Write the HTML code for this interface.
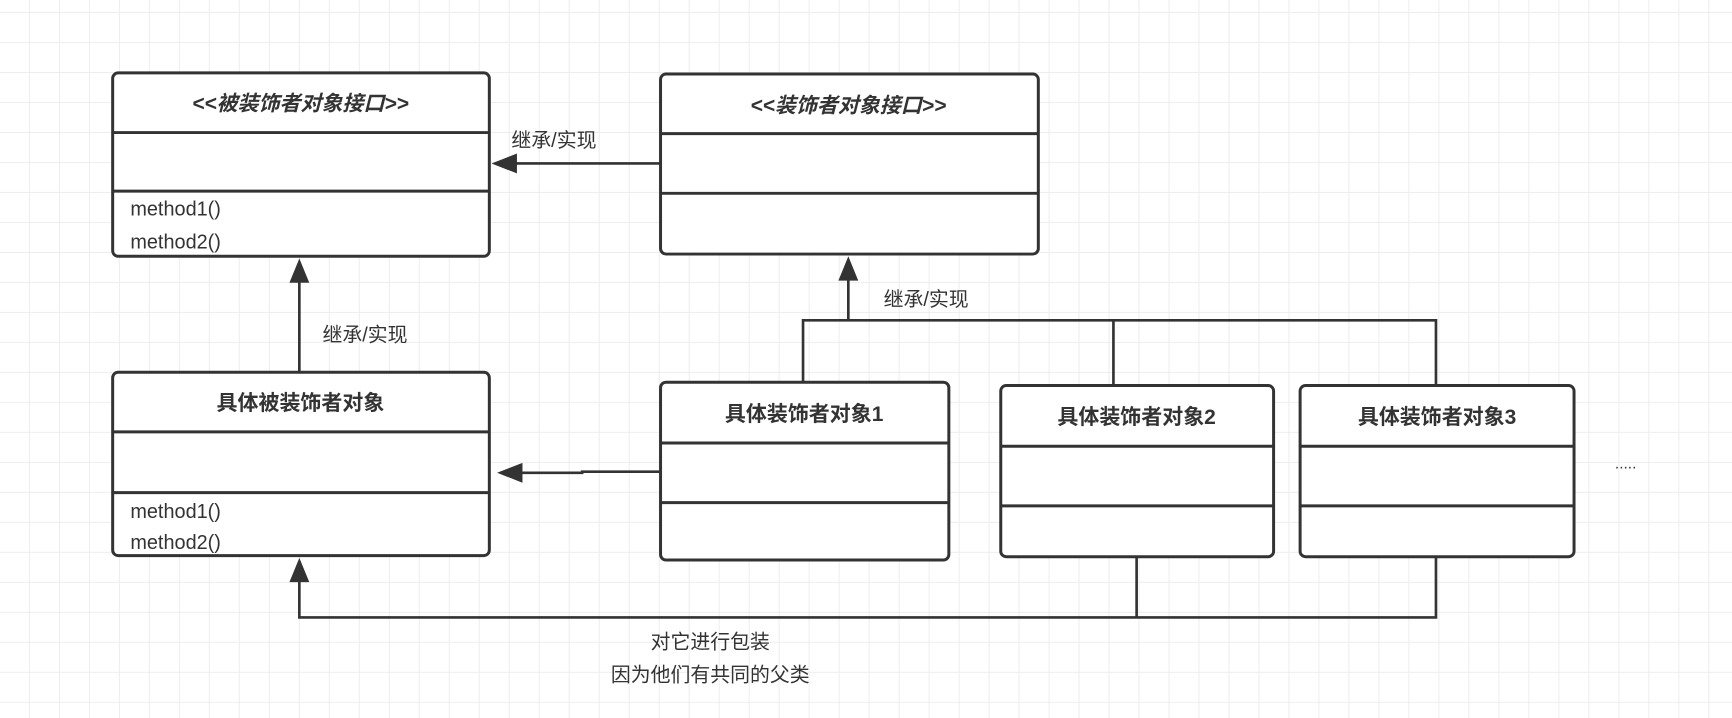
<!DOCTYPE html>
<html><head><meta charset="utf-8">
<style>
html,body{margin:0;padding:0;background:#fff;width:1732px;height:718px;overflow:hidden}
svg{display:block}
text{font-family:"Liberation Sans","Noto Sans CJK SC",sans-serif;fill:#333}
</style></head>
<body>
<svg width="1732" height="718" viewBox="0 0 1568 650" preserveAspectRatio="none" xmlns="http://www.w3.org/2000/svg">
<defs>
<pattern id="g" x="26.2" y="10.9" width="27.15" height="27.15" patternUnits="userSpaceOnUse">
<path d="M0 0H27.15M0 0V27.15" stroke="#ebebeb" stroke-width="1.6" fill="none"/>
</pattern>
</defs>
<rect width="1568" height="650" fill="#fff"/>
<rect width="1568" height="650" fill="url(#g)"/>

<g fill="none" stroke="#333" stroke-width="2.7">
<!-- A -->
<rect x="102" y="66" width="341" height="166" rx="5" fill="#fff"/>
<line x1="102" y1="120" x2="443" y2="120"/><line x1="102" y1="173" x2="443" y2="173"/>
<!-- B -->
<rect x="598" y="67" width="342" height="163" rx="5" fill="#fff"/>
<line x1="598" y1="121" x2="940" y2="121"/><line x1="598" y1="175" x2="940" y2="175"/>
<!-- C -->
<rect x="102" y="337" width="341" height="166" rx="5" fill="#fff"/>
<line x1="102" y1="391" x2="443" y2="391"/><line x1="102" y1="446" x2="443" y2="446"/>
<!-- D1 -->
<rect x="598" y="346" width="261" height="161" rx="5" fill="#fff"/>
<line x1="598" y1="401" x2="859" y2="401"/><line x1="598" y1="455" x2="859" y2="455"/>
<!-- D2 -->
<rect x="906" y="349" width="247" height="155" rx="5" fill="#fff"/>
<line x1="906" y1="404" x2="1153" y2="404"/><line x1="906" y1="458" x2="1153" y2="458"/>
<!-- D3 -->
<rect x="1177" y="349" width="248" height="155" rx="5" fill="#fff"/>
<line x1="1177" y1="404" x2="1425" y2="404"/><line x1="1177" y1="458" x2="1425" y2="458"/>
</g>

<g fill="none" stroke="#333" stroke-width="2.4">
<line x1="598" y1="148" x2="462" y2="148"/>
<line x1="271" y1="337" x2="271" y2="252"/>
<polyline points="598,427 527,427 527,428 468,428"/>
<line x1="768" y1="290" x2="768" y2="250"/>
<polyline points="727,346 727,290 1300,290 1300,349"/>
<line x1="1008" y1="290" x2="1008" y2="349"/>
<polyline points="1029,504 1029,559"/>
<polyline points="1300,504 1300,559 271,559 271,523"/>
</g>
<g fill="#333">
<polygon points="445,148 468,139 468,157"/>
<polygon points="271,234 262,256 280,256"/>
<polygon points="450,428 473,419 473,437"/>
<polygon points="768,232 759,254 777,254"/>
<polygon points="271,505 262,527 280,527"/>
</g>

<g font-size="19">
<text x="272" y="100" text-anchor="middle" font-weight="bold" font-style="italic">&lt;&lt;被装饰者对象接口&gt;&gt;</text>
<text x="768" y="102" text-anchor="middle" font-weight="bold" font-style="italic">&lt;&lt;装饰者对象接口&gt;&gt;</text>
<text x="272" y="371" text-anchor="middle" font-weight="bold">具体被装饰者对象</text>
<text x="728" y="381" text-anchor="middle" font-weight="bold">具体装饰者对象1</text>
<text x="1029" y="384" text-anchor="middle" font-weight="bold">具体装饰者对象2</text>
<text x="1301" y="384" text-anchor="middle" font-weight="bold">具体装饰者对象3</text>
</g>
<g font-size="18">
<text x="118" y="195">method1()</text>
<text x="118" y="225">method2()</text>
<text x="118" y="469">method1()</text>
<text x="118" y="497">method2()</text>
<text x="463" y="133">继承/实现</text>
<text x="292" y="309">继承/实现</text>
<text x="800" y="277">继承/实现</text>
<text x="643" y="587" text-anchor="middle">对它进行包装</text>
<text x="643" y="617" text-anchor="middle">因为他们有共同的父类</text>
<text x="1462" y="424" font-size="14">.....</text>
</g>
</svg>
</body></html>
